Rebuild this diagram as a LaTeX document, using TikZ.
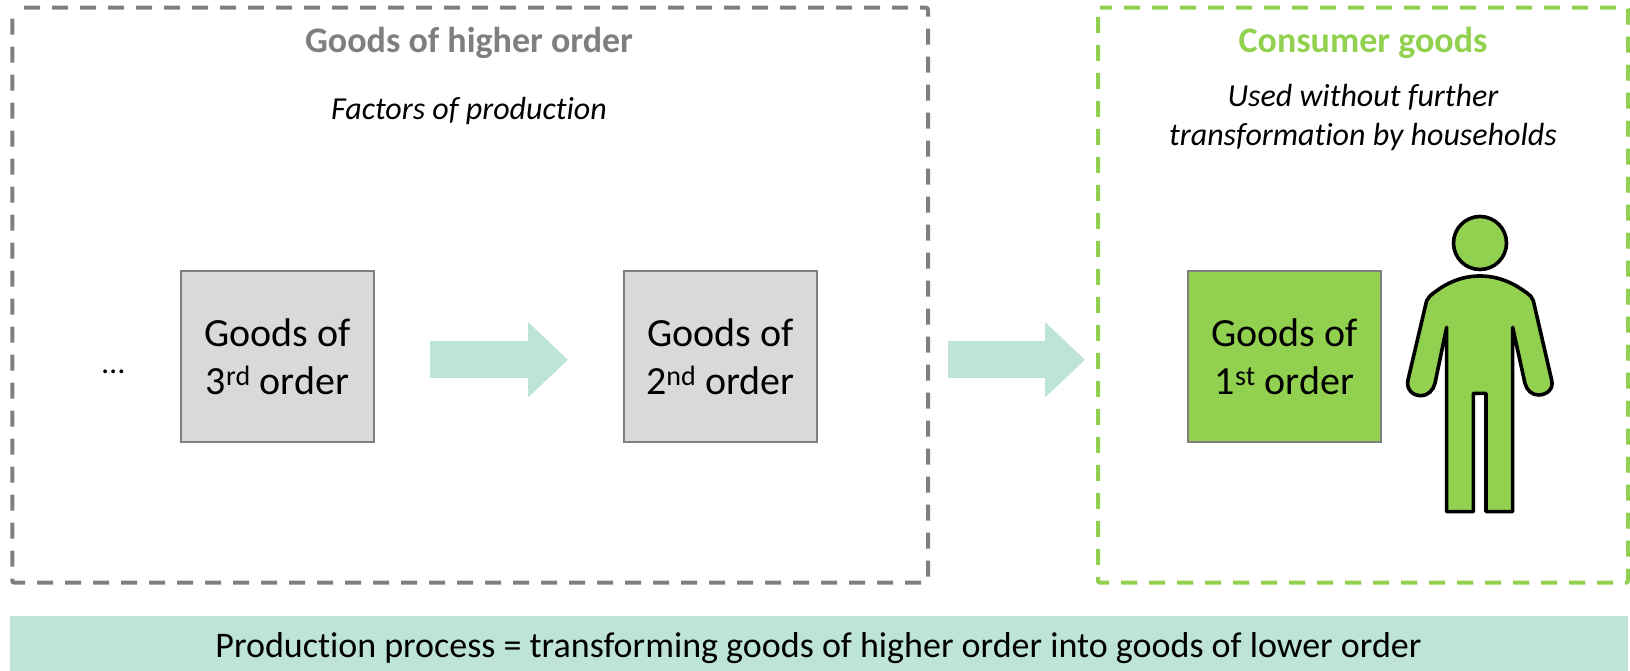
\documentclass[tikz,border=0pt]{standalone}
\usepackage{fontspec}
\setmainfont[Ligatures=NoCommon]{Carlito}
\usetikzlibrary{arrows.meta}
\definecolor{gframe}{HTML}{7F7F7F}
\definecolor{lgreen}{HTML}{92D050}
\definecolor{mint}{HTML}{BDE4D4}
\definecolor{boxgray}{HTML}{D9D9D9}
\tikzset{
  frame/.style={line width=4pt,dash pattern=on 16pt off 12pt,rounded corners=2pt},
  goodsbox/.style={draw=gframe,line width=1.8pt,minimum width=193pt,minimum height=171pt,align=center,inner sep=0pt,font=\fontsize{40}{48}\selectfont},
  title/.style={font=\fontsize{36}{40}\selectfont\bfseries},
  note/.style={font=\fontsize{32}{39}\selectfont\itshape,align=center},
  fat/.style={draw=mint,line width=37pt,-{Triangle[length=40pt,width=72.7pt]}},
  person/.style={fill=lgreen,draw=black,line width=3.6pt,line join=round}
}
\begin{document}
\begin{tikzpicture}[x=1pt,y=-1pt]
\useasboundingbox (0,0) rectangle (1630,671);
% frames
\draw[frame,draw=gframe,dash phase=18.3pt] (12.3,7.7) -- (928,7.7) -- (928,582.7) -- (12.3,582.7) -- cycle;
\draw[frame,draw=lgreen,dash phase=4pt] (1098,7.7) -- (1628,7.7) -- (1628,582.7) -- (1098,582.7) -- cycle;
% banner
\node[fill=mint,minimum width=1618pt,minimum height=55pt,inner sep=0pt] (banner) at (819,643.5) {};
\node[font=\fontsize{36}{38}\selectfont] (bantext) at (818.5,648) {Production process = transforming goods of higher order into goods of lower order};
% titles
\node[title,text=gframe] (higher) at (469,43) {Goods of higher order};
\node[title,text=lgreen] (consumer) at (1363,43) {Consumer goods};
\node[note] (factors) at (469,111) {Factors of production};
\node[note] (used) at (1363,117.5) {Used without further\\transformation by households};
% boxes
\node[note] (dots) at (114,372) {...};
\node[goodsbox,fill=boxgray] (g3) at (277.5,356.5) {Goods of\\3\textsuperscript{rd} order};
\node[goodsbox,fill=boxgray] (g2) at (720.5,356.5) {Goods of\\2\textsuperscript{nd} order};
\node[goodsbox,fill=lgreen] (g1) at (1284.5,356.5) {Goods of\\1\textsuperscript{st} order};
% arrows
\draw[fat] ([xshift=55pt,yshift=-3.3pt]g3.east) -- ([xshift=-55pt,yshift=-3.3pt]g2.west);
\draw[fat] ([xshift=130pt,yshift=-3.3pt]g2.east) -- ([xshift=-102pt,yshift=-3.3pt]g1.west);
% person
\node[person,circle,minimum size=53pt,inner sep=0pt] (head) at (1480,243) {};
\begin{scope}[shift={(1170,190)},x=0.3333pt,y=-0.3333pt]
\draw[person] (780,318) .. controls (830,275) and (880,258) .. (930,258)
  .. controls (980,258) and (1030,275) .. (1082,318)
  -- (1090,332) -- (1145,570)
  .. controls (1152,598) and (1130,615) .. (1105,615)
  .. controls (1085,615) and (1070,600) .. (1065,580)
  -- (1028,412) -- (1028,965) -- (948,965) -- (948,610) -- (910,610) -- (910,965) -- (830,965) -- (830,412)
  -- (795,580)
  .. controls (790,600) and (775,617) .. (752,617)
  .. controls (728,617) and (708,598) .. (714,570)
  -- (770,332) -- cycle;
\end{scope}
\end{tikzpicture}
\end{document}
